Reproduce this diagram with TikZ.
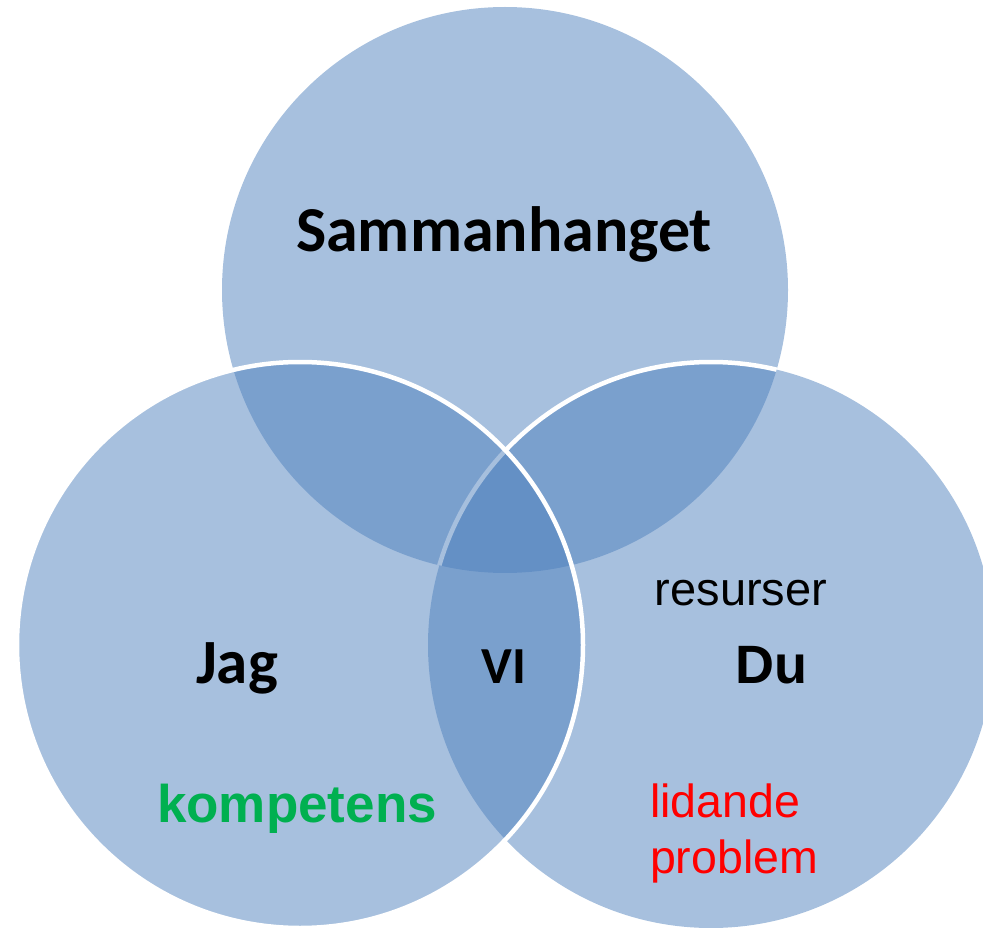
\documentclass[tikz,border=0pt]{standalone}
\usepackage{fontspec}
\newfontfamily\calfont{Carlito}
\newfontfamily\arifont{Liberation Sans}
\definecolor{vennblue}{HTML}{4F81BD}
\definecolor{kgreen}{HTML}{00B050}
\definecolor{lred}{HTML}{FF0000}
\tikzset{
  vennfill/.style={fill=vennblue, fill opacity=0.5},
  vennline/.style={draw=white, line width=4.5pt},
  lbl/.style={inner sep=0pt, outer sep=0pt, anchor=base, text=black},
}
\begin{document}
\begin{tikzpicture}[x=1pt,y=-1pt]
\useasboundingbox (0,0) rectangle (983,928);
\clip (0,0) rectangle (983,928);
\coordinate (ct) at (505,290);
\coordinate (cl) at (300,645);
\coordinate (cr) at (711,645);
% top circle and right circle fills
\fill[vennfill] (ct) circle[radius=283pt];
\fill[vennfill] (cr) circle[radius=283pt];
% right circle outline, visible only over the top circle
\begin{scope}
  \clip (ct) circle[radius=283pt];
  \draw[vennline] (cr) circle[radius=283pt];
\end{scope}
% left circle fill and outline
\fill[vennfill] (cl) circle[radius=283pt];
\draw[vennline] (cl) circle[radius=283pt];
% labels
\node[lbl, font=\calfont\bfseries\fontsize{64}{77}\selectfont] (sam) at (504,252) {Sammanhanget};
\node[lbl, font=\calfont\bfseries\fontsize{63}{76}\selectfont] (jag) at (237,683) {Jag};
\node[lbl, font=\calfont\bfseries\fontsize{52}{62}\selectfont] (vi) at (504,683) {VI};
\node[lbl, font=\arifont\bfseries\fontsize{54}{65}\selectfont] (du) at (771,683) {Du};
\node[lbl, font=\arifont\fontsize{47}{56}\selectfont] (res) at (741,605) {resurser};
\node[lbl, text=kgreen, font=\arifont\bfseries\fontsize{53}{63}\selectfont] (komp) at (297,822) {kompetens};
\node[lbl, anchor=base west, text=lred, font=\arifont\fontsize{46.5}{56}\selectfont] (lid) at (650,817) {lidande};
\node[lbl, anchor=base west, text=lred, font=\arifont\fontsize{46.5}{56}\selectfont] (prob) at (650,873) {problem};
\end{tikzpicture}
\end{document}
